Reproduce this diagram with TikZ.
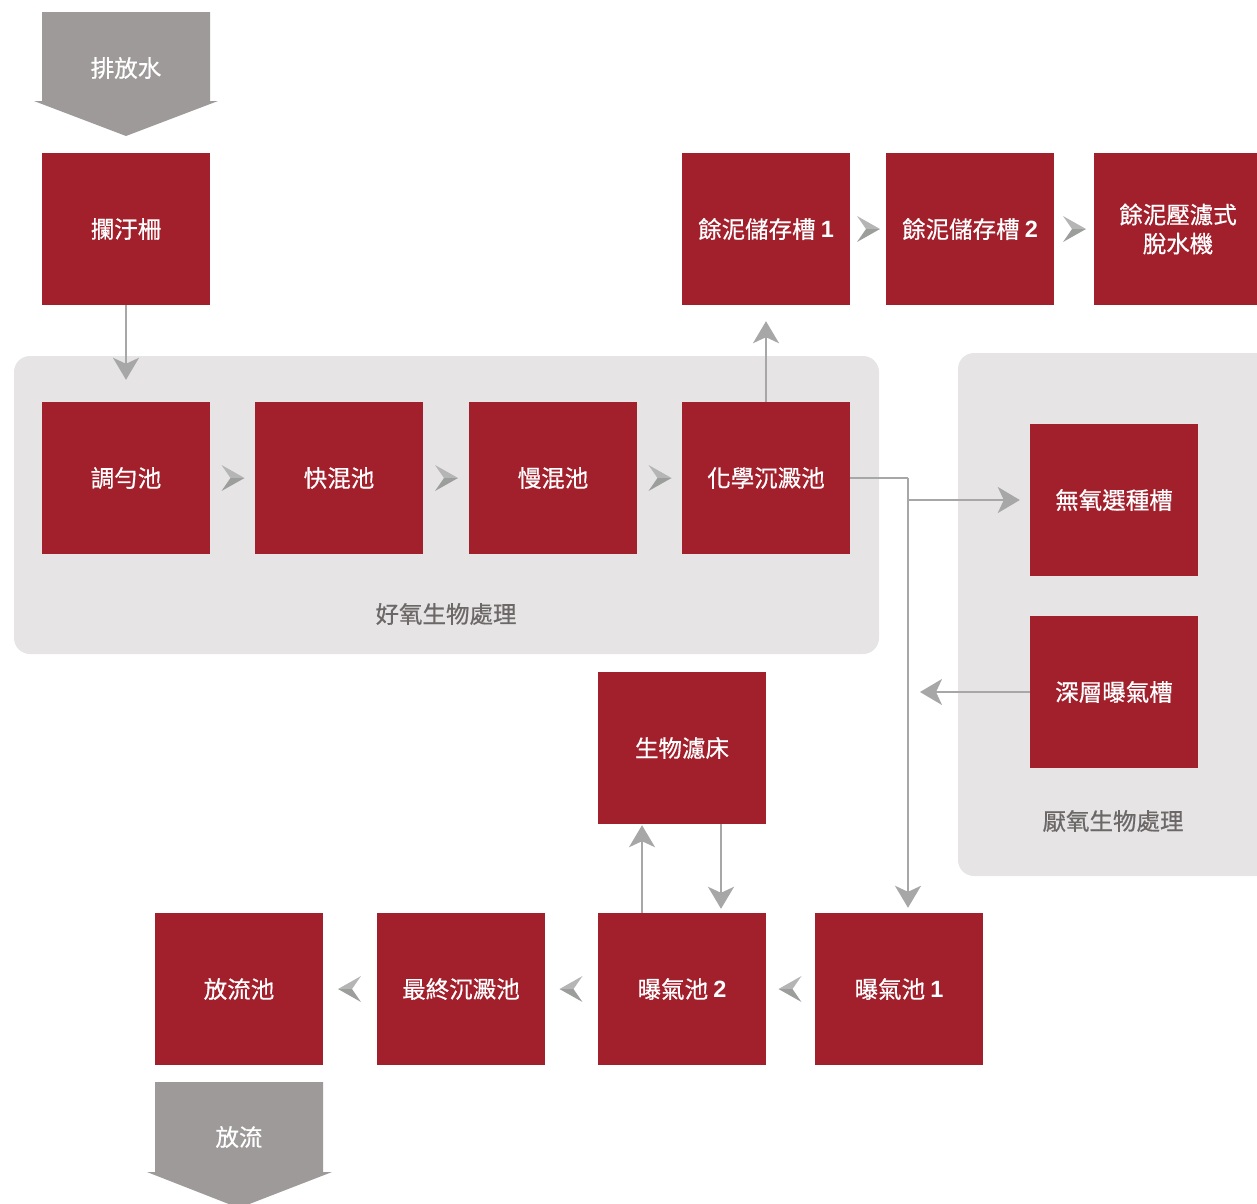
\documentclass[tikz,border=0pt]{standalone}
\usepackage{fontspec}
\newfontfamily\cjk[FakeBold=0.6]{Noto Sans CJK TC}
\newfontfamily\digfont{Liberation Sans}
\newcommand{\dg}[1]{{\digfont\bfseries #1}}
\usetikzlibrary{arrows.meta,calc}
\definecolor{boxred}{HTML}{A21F2C}
\definecolor{panelgray}{HTML}{E6E4E5}
\definecolor{biggray}{HTML}{9E9A99}
\definecolor{linegray}{HTML}{A6A7A6}
\definecolor{chevlight}{HTML}{B4B5B4}
\definecolor{chevdark}{HTML}{9C9E9C}
\definecolor{labelgray}{HTML}{6C6868}
\begin{document}
\begin{tikzpicture}[x=1pt,y=-1pt,
  box/.style={fill=boxred, minimum width=168pt, minimum height=152pt, inner sep=0pt,
    text=white, align=center, font=\cjk\fontsize{23.5}{29}\selectfont},
  panellabel/.style={text=labelgray, font=\cjk\fontsize{23.5}{29}\selectfont, inner sep=0pt},
  biglabel/.style={text=white, font=\cjk\fontsize{23.5}{29}\selectfont, inner sep=0pt},
  conn/.style={draw=linegray, line width=2pt,
    -{Stealth[length=22pt,width=26pt,inset=6pt,fill=linegray]}},
  plain/.style={draw=linegray, line width=2pt},
  chev/.pic={
    \fill[chevlight] (12,0) -- (-11,-13) -- (-2,0) -- cycle;
    \fill[chevdark] (12,0) -- (-11,13) -- (-2,0) -- cycle;
  }]
\useasboundingbox (0,0) rectangle (1257,1203);
\clip (0,0) rectangle (1257,1203);

% panels
\fill[panelgray, rounded corners=16pt] (14,356) rectangle (879,654);
\fill[panelgray, rounded corners=16pt] (958,353) rectangle (1290,876);
\node[panellabel] (aer) at (446,614) {好氧生物處理};
\node[panellabel] (ana) at (1113,821) {厭氧生物處理};

% big arrows
\fill[biggray] (42,12) -- (210,12) -- (210,101) -- (218,101) -- (126,136) -- (34,101) -- (42,101) -- cycle;
\node[biglabel] (inflow) at (126,68) {排放水};
\fill[biggray] (155,1082) -- (323,1082) -- (323,1172) -- (332,1172) -- (239,1208) -- (147,1172) -- (155,1172) -- cycle;
\node[biglabel] (outflow) at (239,1137) {放流};

% boxes
\node[box] (lan) at (126,229) {攔汙柵};
\node[box] (tiao) at (126,478) {調勻池};
\node[box] (kuai) at (339,478) {快混池};
\node[box] (man) at (553,478) {慢混池};
\node[box] (hua) at (766,478) {化學沉澱池};
\node[box] (yu1) at (766,229) {餘泥儲存槽 \dg{1}};
\node[box] (yu2) at (970,229) {餘泥儲存槽 \dg{2}};
\node[box] (tuo) at (1178,229) {餘泥壓濾式\\脫水機};
\node[box] (wu) at (1114,500) {無氧選種槽};
\node[box] (shen) at (1114,692) {深層曝氣槽};
\node[box] (sw) at (682,748) {生物濾床};
\node[box] (bao1) at (899,989) {曝氣池 \dg{1}};
\node[box] (bao2) at (682,989) {曝氣池 \dg{2}};
\node[box] (zui) at (461,989) {最終沉澱池};
\node[box] (fang) at (239,989) {放流池};

% chevrons
\pic at ($(tiao.east)!0.5!(kuai.west)$) {chev};
\pic at ($(kuai.east)!0.5!(man.west)$) {chev};
\pic at ($(man.east)!0.5!(hua.west)$) {chev};
\pic at ($(yu1.east)!0.5!(yu2.west)$) {chev};
\pic at ($(yu2.east)!0.5!(tuo.west)$) {chev};
\pic[xscale=-1] at ($(bao1.west)!0.5!(bao2.east)$) {chev};
\pic[xscale=-1] at ($(bao2.west)!0.5!(zui.east)$) {chev};
\pic[xscale=-1] at ($(zui.west)!0.5!(fang.east)$) {chev};

% connectors
\coordinate (jn) at (908,478);
\draw[conn, shorten >=22pt] (lan.south) -- (tiao.north);
\draw[conn, shorten >=16pt] (hua.north) -- (yu1.south);
\draw[plain] (hua.east) -- (jn);
\draw[conn, shorten >=5pt] (jn) -- (jn |- bao1.north);
\draw[conn, shorten >=10pt] (jn |- wu.west) -- (wu.west);
\draw[conn, shorten >=12pt] (shen.west) -- (jn |- shen.west);
\draw[conn, shorten >=1pt] ([xshift=-40pt]bao2.north) -- ([xshift=-40pt]sw.south);
\draw[conn, shorten >=4pt] ([xshift=39pt]sw.south) -- ([xshift=39pt]bao2.north);
\end{tikzpicture}
\end{document}
